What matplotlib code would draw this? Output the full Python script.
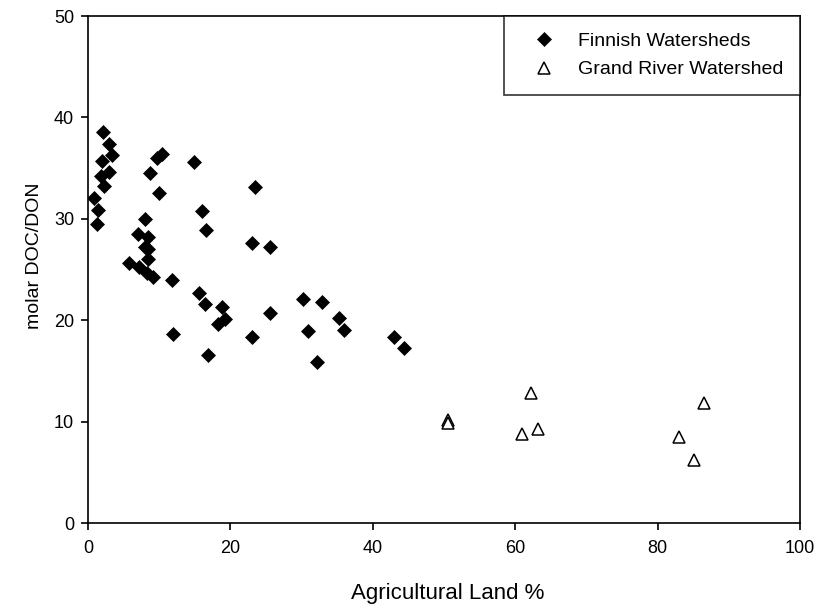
import matplotlib
matplotlib.use("Agg")
from matplotlib import pyplot as plt

plt.rcParams['font.family'] = ['Liberation Sans', 'DejaVu Sans']

# Finnish watersheds: agricultural land % vs molar DOC/DON
fin_agri = [2.1, 3.0, 3.4, 2.0, 3.0, 1.8, 2.2, 0.8, 1.4, 1.3,
            10.4, 9.7, 8.7, 10.0, 14.9, 23.5, 16.0, 16.6, 8.0, 23.1, 25.6,
            7.0, 8.4, 8.0, 8.4, 8.4, 5.8, 7.2, 8.3, 9.1, 11.8,
            15.6, 16.5, 18.8, 19.3, 18.3, 12.0, 16.9, 23.1, 25.5,
            30.2, 32.8, 30.9, 32.2, 35.3, 35.9, 43.0, 44.4]
fin_ratio = [38.6, 37.4, 36.3, 35.7, 34.6, 34.2, 33.2, 32.1, 30.9, 29.5,
             36.4, 36.0, 34.5, 32.5, 35.6, 33.1, 30.8, 28.9, 30.0, 27.6, 27.2,
             28.5, 28.2, 27.2, 27.0, 26.0, 25.6, 25.2, 24.7, 24.3, 24.0,
             22.7, 21.6, 21.3, 20.1, 19.6, 18.6, 16.6, 18.3, 20.7,
             22.1, 21.8, 18.9, 15.9, 20.2, 19.0, 18.3, 17.3]

# Grand River watershed
grand_agri = [50.6, 50.6, 62.2, 61.0, 63.2, 86.5, 83.0, 85.1]
grand_ratio = [10.2, 9.9, 12.8, 8.8, 9.3, 11.8, 8.5, 6.2]

fig = plt.figure(figsize=(8.2, 6.11), dpi=100)
ax = fig.add_axes([0.1073, 0.1440, 0.8683, 0.8298])

ax.plot(fin_agri, fin_ratio, linestyle='none', marker='D', markersize=7,
        markeredgewidth=0.5, color='black', label='Finnish Watersheds')
ax.plot(grand_agri, grand_ratio, linestyle='none', marker='^', markersize=8,
        markerfacecolor='white', markeredgecolor='black', markeredgewidth=1.1,
        label='Grand River Watershed')

ax.set_xlim(0, 100)
ax.set_ylim(0, 50)
ax.set_xticks([0, 20, 40, 60, 80, 100])
ax.set_yticks([0, 10, 20, 30, 40, 50])
ax.tick_params(direction='out', length=5, width=1.2, labelsize=13)
ax.tick_params(axis='x', pad=7)
ax.tick_params(axis='y', pad=5)
for s in ax.spines.values():
    s.set_linewidth(1.2)

ax.set_xlabel('Agricultural Land %', fontsize=16)
ax.set_ylabel('molar DOC/DON', fontsize=14)
ax.xaxis.set_label_coords(0.505, -0.118)
ax.yaxis.set_label_coords(-0.063, 0.528)

leg = ax.legend(loc='upper right', fontsize=14, frameon=True, fancybox=False,
                borderaxespad=0, borderpad=0.85, handlelength=2.4,
                handletextpad=0.55, labelspacing=0.55)
leg.get_frame().set_edgecolor('black')
leg.get_frame().set_linewidth(1.2)

fig.savefig('out.png', dpi=100)
